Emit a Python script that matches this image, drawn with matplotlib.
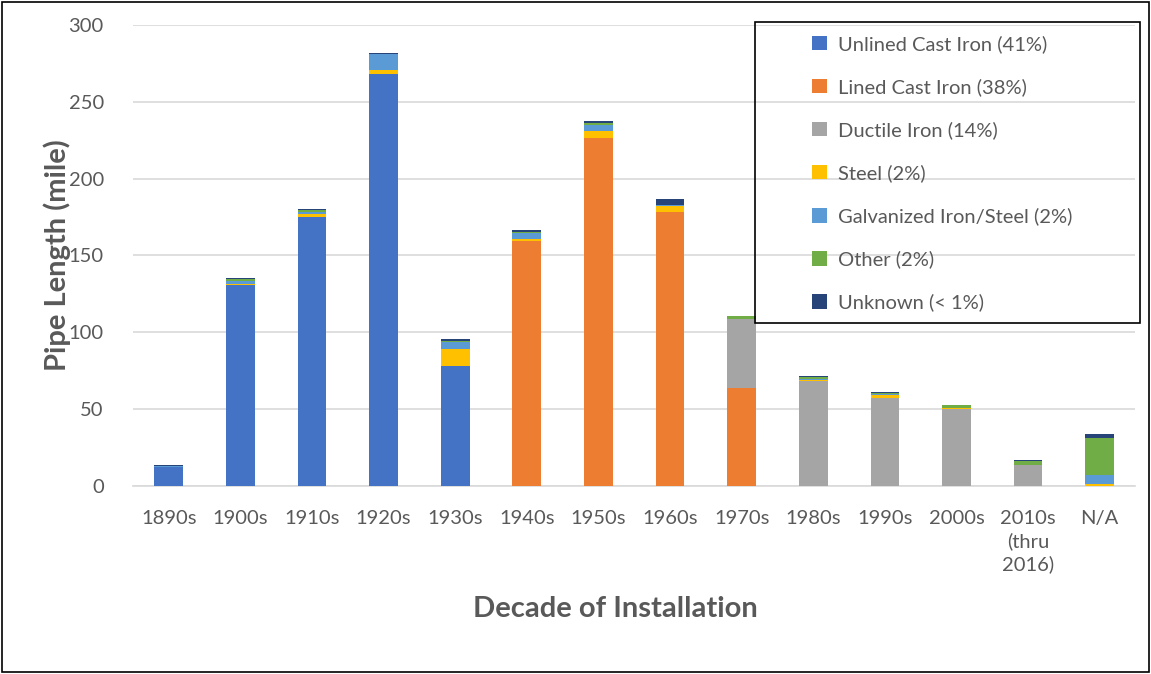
import numpy as np
import matplotlib.pyplot as plt
from matplotlib.patches import Rectangle

plt.rcParams['font.family'] = ['Lato', 'DejaVu Sans']

# Data
decades = ["1890s", "1900s", "1910s", "1920s", "1930s", "1940s", "1950s",
           "1960s", "1970s", "1980s", "1990s", "2000s", "2010s\n(thru\n2016)", "N/A"]

unlined   = [12.3, 131.0, 175.0, 268.0, 78.0, 0, 0, 0, 0, 0, 0, 0, 0, 0]
lined     = [0, 0, 0, 0, 0, 159.5, 226.2, 178.5, 63.5, 0, 0, 0, 0, 0]
ductile   = [0, 0, 0, 0, 0, 0, 0, 0, 45.2, 68.3, 57.5, 49.9, 13.4, 0]
steel     = [0, 0.5, 2.0, 2.8, 11.0, 1.5, 5.0, 3.5, 0, 0.9, 1.8, 1.0, 0.3, 1.5]
galvan    = [0.4, 2.0, 1.5, 10.0, 5.0, 3.4, 3.5, 0.8, 0, 0.5, 0.8, 0, 0, 5.5]
other     = [0.6, 1.0, 1.0, 0, 0.5, 0.9, 1.7, 0, 1.7, 1.2, 0.6, 1.8, 2.6, 24.2]
unknown   = [0.3, 0.5, 0.5, 1.0, 1.0, 1.0, 1.1, 3.9, 0, 0.8, 0.5, 0, 0.6, 2.6]

series = [
    ("Unlined Cast Iron (41%)", unlined, "#4472C4"),
    ("Lined Cast Iron (38%)", lined, "#ED7D31"),
    ("Ductile Iron (14%)", ductile, "#A5A5A5"),
    ("Steel (2%)", steel, "#FFC000"),
    ("Galvanized Iron/Steel (2%)", galvan, "#5B9BD5"),
    ("Other (2%)", other, "#70AD47"),
    ("Unknown (< 1%)", unknown, "#264478"),
]

txt = "#595959"
W, H = 1151, 674

fig = plt.figure(figsize=(W / 100, H / 100), dpi=100)
ax = fig.add_axes([0.1155, 0.279, 0.871, 0.684])

x = np.arange(len(decades))
bottom = np.zeros(len(decades))
for name, vals, col in series:
    vals = np.array(vals, dtype=float)
    ax.bar(x, vals, 0.4, bottom=bottom, color=col, label=name, zorder=3)
    bottom += vals

ax.set_xlim(-0.5, len(decades) - 0.5)
ax.set_ylim(0, 300)
ax.set_yticks(np.arange(0, 301, 50))
ax.set_xticks(x)
ax.set_xticklabels(decades, linespacing=1.35)
ax.yaxis.grid(True, color="#D9D9D9", linewidth=1.2, zorder=0)
for s in ax.spines.values():
    s.set_visible(False)
ax.spines['bottom'].set_visible(True)
ax.spines['bottom'].set_color("#D9D9D9")
ax.spines['bottom'].set_linewidth(1.2)
ax.tick_params(axis='both', length=0, labelsize=14.5, colors=txt)
ax.tick_params(axis='x', pad=17)
ax.tick_params(axis='y', pad=21)

ax.set_ylabel("Pipe Length (mile)", fontsize=21, fontweight='bold', color=txt, labelpad=-2)
fig.text(0.535, 0.085, "Decade of Installation", fontsize=21, fontweight='bold',
         color=txt, ha='center')

# legend: stretched box as in the original, entries placed inside
fig.patches.append(Rectangle((755 / W, 1 - 323 / H), 385 / W, 301 / H,
                             transform=fig.transFigure, fill=False,
                             edgecolor='black', linewidth=1.2, zorder=5))
leg = fig.legend(loc='upper left', bbox_to_anchor=(812 / W, 1 - 35 / H), fontsize=14.5,
                 frameon=False, labelcolor=txt,
                 handlelength=0.75, handleheight=0.75, labelspacing=1.25,
                 borderpad=0, handletextpad=0.55, borderaxespad=0)

# figure border
fig.patches.append(Rectangle((0.002, 0.003), 0.996, 0.994, transform=fig.transFigure,
                             fill=False, edgecolor='black', linewidth=1.2))

fig.savefig("out.png", dpi=100)
